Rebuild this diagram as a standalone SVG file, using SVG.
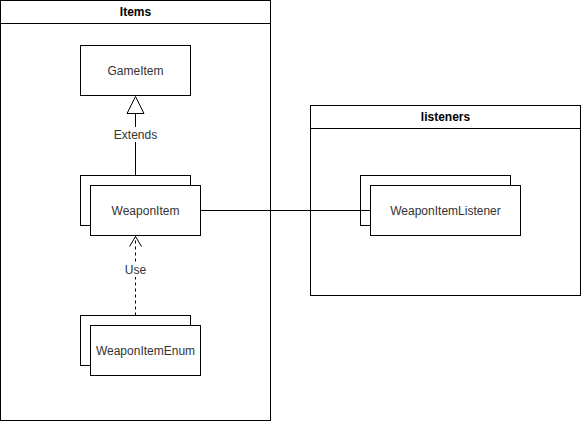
<svg xmlns="http://www.w3.org/2000/svg" width="581" height="421" viewBox="0 0 581 421">
<style>
.box{fill:#fff;stroke:#000;stroke-width:1}
.t{font-family:"Liberation Sans",Arial,sans-serif;font-size:12px;fill:#333;text-anchor:middle;dominant-baseline:central}
.h{font-family:"Liberation Sans",Arial,sans-serif;font-size:12px;font-weight:bold;fill:#000;text-anchor:middle;dominant-baseline:central}
.ln{fill:none;stroke:#000;stroke-width:1}
</style>
<rect width="581" height="421" fill="#fff"/>
<g id="items">
<rect class="box" x="0.5" y="0.5" width="270" height="420"/>
<line class="ln" x1="0.5" y1="23.5" x2="270.5" y2="23.5"/>
<text class="h" x="135.5" y="12">Items</text>
</g>
<g id="listeners">
<rect class="box" x="310.5" y="105.5" width="270" height="190"/>
<line class="ln" x1="310.5" y1="128.5" x2="580.5" y2="128.5"/>
<text class="h" x="445.5" y="117">listeners</text>
</g>
<g id="gameitem">
<rect class="box" x="80.5" y="45.5" width="110" height="50"/>
<text class="t" x="135.5" y="70.5">GameItem</text>
</g>
<g id="weaponitem">
<rect class="box" x="80.5" y="175.5" width="110" height="50"/>
<rect class="box" x="90.5" y="185.5" width="110" height="50"/>
<text class="t" x="145.5" y="210.5">WeaponItem</text>
</g>
<g id="weaponitemenum">
<rect class="box" x="80.5" y="315.5" width="110" height="50"/>
<rect class="box" x="90.5" y="325.5" width="110" height="50"/>
<text class="t" x="145.5" y="350.5">WeaponItemEnum</text>
</g>
<g id="weaponitemlistener">
<rect class="box" x="360.5" y="175.5" width="150" height="50"/>
<rect class="box" x="370.5" y="185.5" width="150" height="50"/>
<text class="t" x="445.5" y="210.5">WeaponItemListener</text>
</g>
<g id="connectors">
<line class="ln" x1="200.5" y1="210.5" x2="370.5" y2="210.5"/>
<line class="ln" x1="135.5" y1="175.5" x2="135.5" y2="113.5"/>
<path class="box" d="M135.5 96.5 L144 113.5 L127 113.5 Z"/>
<rect x="110" y="127" width="51" height="15" fill="#fff"/>
<text class="t" x="135.5" y="134.5">Extends</text>
<line class="ln" x1="135.5" y1="315.5" x2="135.5" y2="237" stroke-dasharray="3 3"/>
<path class="ln" d="M129.5 246.5 L135.5 236.5 L141.5 246.5"/>
<rect x="122" y="262" width="27" height="15" fill="#fff"/>
<text class="t" x="135.5" y="269.5">Use</text>
</g>
</svg>
